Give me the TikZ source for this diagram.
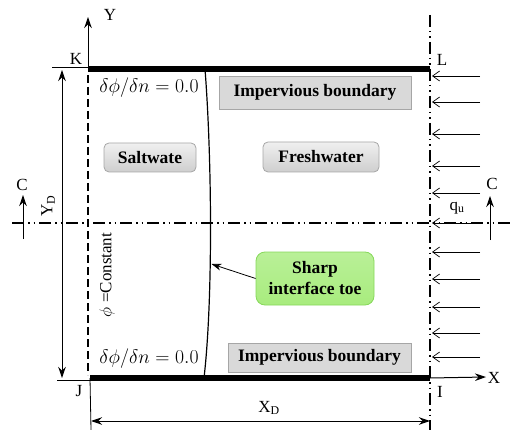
\documentclass[tikz,border=0pt]{standalone}
\usepackage{fontspec}
\setmainfont{Liberation Serif}
\usetikzlibrary{arrows.meta}
\definecolor{boxgray}{HTML}{D9D9D9}
\definecolor{boxedge}{HTML}{A6A6A6}
\definecolor{greenfill}{HTML}{A8EC7E}
\definecolor{greenedge}{HTML}{86D85A}
\tikzset{
  lbl/.style={font=\fontsize{17}{20}\selectfont, inner sep=0pt},
  flatbox/.style={draw=boxedge, fill=boxgray, line width=0.8pt, inner sep=0pt,
    font=\fontsize{17.5}{20}\selectfont\bfseries},
  roundbox/.style={draw=boxedge, rounded corners=5pt, top color=gray!12, bottom color=gray!38,
    line width=0.8pt, inner sep=0pt, font=\fontsize{17.5}{20}\selectfont\bfseries},
  greenbox/.style={draw=greenedge, rounded corners=9pt, top color=greenfill!80, bottom color=greenfill,
    line width=0.8pt, inner sep=0pt, align=center, font=\fontsize{17.5}{21}\selectfont\bfseries},
  thickbd/.style={line width=6pt},
  centerline/.style={line width=1.3pt, dash pattern=on 12pt off 4pt on 1.5pt off 4pt on 1.5pt off 4pt},
  inflow/.style={line width=0.7pt, -{Straight Barb[length=7pt,width=10pt]}},
  dimarrow/.style={line width=1pt, {Stealth[length=11pt,width=7.5pt]}-{Stealth[length=11pt,width=7.5pt]}},
  axarrow/.style={line width=1pt, -{Stealth[length=11pt,width=7.5pt]}}
}
\newcommand{\bcfrac}{\scalebox{1.14}{$\delta\phi/\delta n = 0.0$}}
\begin{document}
\begin{tikzpicture}[x=1pt,y=-1pt]
\useasboundingbox (0,0) rectangle (513,430);
% corner coordinates
\coordinate (K) at (88,69);
\coordinate (L) at (430,69);
\coordinate (J) at (90,378);
\coordinate (I) at (430,378);
% centre lines
\coordinate (hcl) at (12,223);
\coordinate (hcr) at (510,223);
\draw[centerline] (hcl) -- (hcr);
\coordinate (vct) at (430,15);
\coordinate (vcb) at (430,430);
\draw[centerline] (vct) -- (vcb);
% boxes
\node[flatbox, minimum width=192pt, minimum height=33pt] (impt) at (315,92.5) {Impervious boundary};
\node[flatbox, minimum width=183pt, minimum height=29pt] (impb) at (319.5,357.5) {Impervious boundary};
\node[roundbox, minimum width=92pt, minimum height=29pt] (salt) at (150,157.5) {Saltwate};
\node[roundbox, minimum width=116pt, minimum height=30pt] (fresh) at (321,157) {Freshwater};
\node[greenbox, minimum width=118pt, minimum height=53pt] (sharp) at (315,278.5) {Sharp\\interface toe};
% boundaries
\draw[thickbd] (K) -- (L);
\draw[thickbd] (J) -- (I);
\coordinate (dlt) at (88,75);
\coordinate (dlb) at (88,375);
\draw[line width=1.5pt, dash pattern=on 8pt off 4pt] (dlt) -- (dlb);
% axes
\coordinate (ytip) at (88,17);
\draw[axarrow] (K) -- (ytip);
\node[lbl] (ylab) at (110,15) {Y};
\coordinate (xtip) at (486,377);
\draw[axarrow] (I) -- (xtip);
\node[lbl] (xlab) at (494,378) {X};
\coordinate (jbot) at (91,430);
\draw[line width=0.8pt] (J) -- (jbot);
% ticks
\coordinate (kt) at (52,67);
\draw[line width=0.7pt] (kt) -- (88,67);
\coordinate (jt) at (57,380);
\draw[line width=0.7pt] (jt) -- (90,380);
% corner labels
\node[lbl] (klab) at (76,59) {K};
\node[lbl] (llab) at (442,60) {L};
\node[lbl] (jlab) at (79,391) {J};
\node[lbl] (ilab) at (440,392) {I};
% dimensions
\coordinate (yd1) at (62,70);
\coordinate (yd2) at (62,378);
\draw[dimarrow] (yd1) -- (yd2);
\node[lbl, rotate=90] (ydlab) at (48,206) {Y\textsubscript{D}};
\coordinate (xd1) at (91,421);
\coordinate (xd2) at (430,421);
\draw[dimarrow] (xd1) -- (xd2);
\node[lbl] (xdlab) at (269,408) {X\textsubscript{D}};
% section arrows C
\coordinate (c1a) at (23,239);
\coordinate (c1b) at (23,195);
\draw[axarrow] (c1a) -- (c1b);
\node[lbl] (c1lab) at (22,185) {C};
\coordinate (c2a) at (490,240);
\coordinate (c2b) at (490,196);
\draw[axarrow] (c2a) -- (c2b);
\node[lbl] (c2lab) at (492,184) {C};
% inflow arrows
\foreach \yy [count=\i] in {76,102,134,166,193,223,252,279,307,333,357}{
  \coordinate (fa\i) at (480,\yy);
  \coordinate (fb\i) at (432,\yy);
  \draw[inflow] (fa\i) -- (fb\i);
}
\node[lbl] (qlab) at (457,208) {q\textsubscript{u}};
% interface
\coordinate (it) at (205,69);
\coordinate (ib) at (204,378);
\draw[line width=1.2pt] (it) .. controls (212,160) and (213,300) .. (ib);
\coordinate (toe) at (211.5,264);
\draw[line width=0.8pt, -{Stealth[length=10pt,width=7pt]}] (sharp.west) -- (toe);
% boundary conditions
\node[lbl] (bc1) at (149,88) {\bcfrac};
\node[lbl] (bc2) at (149,359) {\bcfrac};
\node[lbl, rotate=90] (bc3) at (107,275) {$\phi$ =Constant};
\end{tikzpicture}
\end{document}
